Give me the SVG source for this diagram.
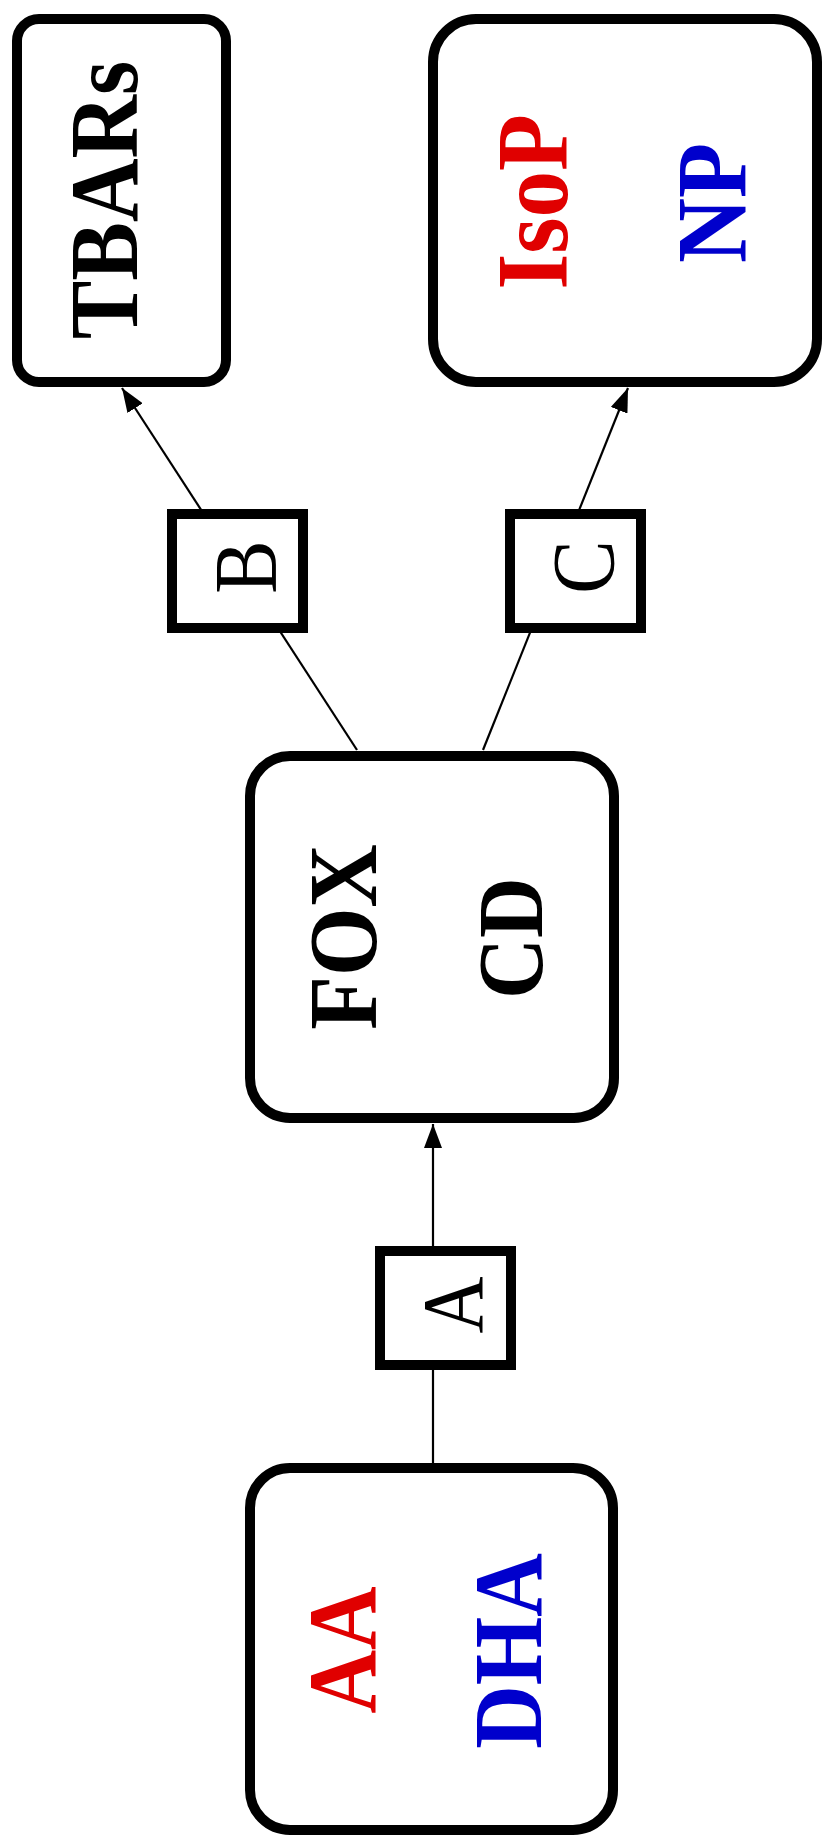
<svg xmlns="http://www.w3.org/2000/svg" width="824" height="1838" viewBox="0 0 824 1838">
  <defs>
    <marker id="arrow" markerUnits="userSpaceOnUse" markerWidth="24" markerHeight="18" refX="24" refY="9" orient="auto">
      <path d="M0,0 L24,9 L0,18 z" fill="#000"/>
    </marker>
    <style>
      .box { fill: #fff; stroke: #000; stroke-width: 10; }
      .conn { fill: none; stroke: #000; stroke-width: 2.2; }
      .big { font-weight: bold; text-anchor: middle; }
      .small { font-weight: normal; text-anchor: middle; fill: #000; }
      .blk { fill: #000; }
      .red { fill: #e00000; }
      .blue { fill: #0000cc; }
    </style>
  </defs>
  <rect width="824" height="1838" fill="#fff"/>

  <g id="connectors">
    <line class="conn" x1="357" y1="750" x2="122" y2="388" marker-end="url(#arrow)"/>
    <line class="conn" x1="483" y1="750" x2="628" y2="388" marker-end="url(#arrow)"/>
    <line class="conn" x1="433" y1="1463" x2="433" y2="1124" marker-end="url(#arrow)"/>
  </g>

  <g id="node-tbars">
    <rect class="box" x="17" y="19" width="209" height="363" rx="22" ry="22"/>
    <text class="big blk" font-family="Liberation Serif, serif" font-size="88" transform="translate(137,200) rotate(-90) scale(1,1.1)">TBARs</text>
  </g>

  <g id="node-isop-np">
    <rect class="box" x="433" y="19" width="384" height="363" rx="43" ry="43"/>
    <text class="big red" font-family="Liberation Serif, serif" font-size="93" transform="translate(567,202) rotate(-90) scale(1,1.1)">IsoP</text>
    <text class="big blue" font-family="Liberation Serif, serif" font-size="90" transform="translate(745,203) rotate(-90) scale(1,1.1)">NP</text>
  </g>

  <g id="node-b">
    <rect class="box" x="172" y="514" width="131" height="114"/>
    <text class="small" font-family="Liberation Serif, serif" font-size="80" transform="translate(275,567) rotate(-90) scale(1,1.1)">B</text>
  </g>

  <g id="node-c">
    <rect class="box" x="510" y="514" width="131" height="114"/>
    <text class="small" font-family="Liberation Serif, serif" font-size="80" transform="translate(613,567) rotate(-90) scale(1,1.1)">C</text>
  </g>

  <g id="node-fox-cd">
    <rect class="box" x="250" y="756" width="364" height="362" rx="40" ry="40"/>
    <text class="big blk" font-family="Liberation Serif, serif" font-size="88" transform="translate(376,937) rotate(-90) scale(1,1.1)">FOX</text>
    <text class="big blk" font-family="Liberation Serif, serif" font-size="84" transform="translate(542,938) rotate(-90) scale(1,1.1)">CD</text>
  </g>

  <g id="node-a">
    <rect class="box" x="380" y="1251" width="131" height="114"/>
    <text class="small" font-family="Liberation Serif, serif" font-size="79" transform="translate(482,1305) rotate(-90) scale(1,1.1)">A</text>
  </g>

  <g id="node-aa-dha">
    <rect class="box" x="250" y="1468" width="363" height="362" rx="40" ry="40"/>
    <text class="big red" font-family="Liberation Serif, serif" font-size="88" transform="translate(375,1650) rotate(-90) scale(1,1.1)">AA</text>
    <text class="big blue" font-family="Liberation Serif, serif" font-size="88" transform="translate(541,1651) rotate(-90) scale(1,1.1)">DHA</text>
  </g>
</svg>
